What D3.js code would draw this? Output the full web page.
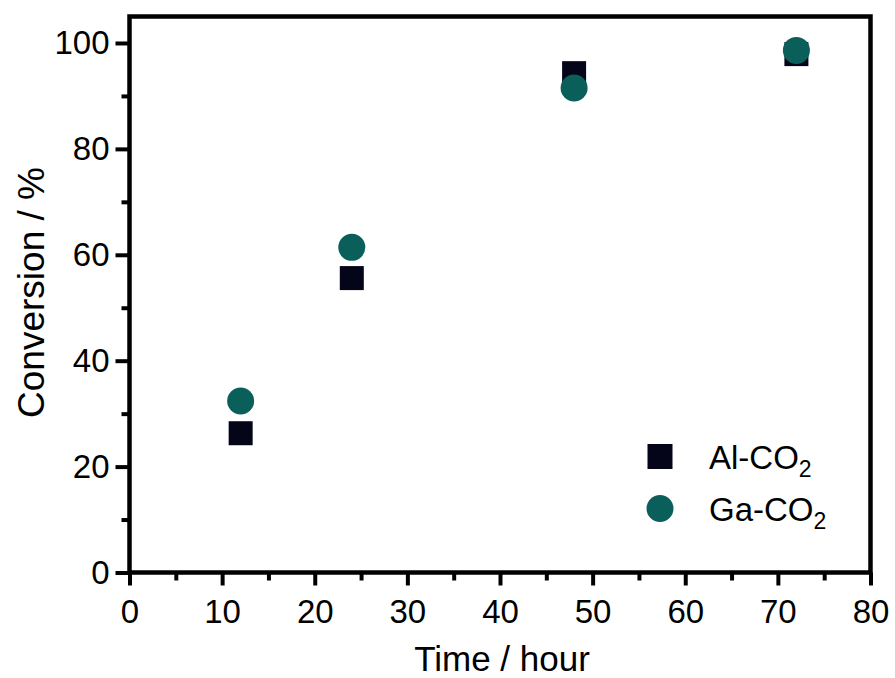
<!DOCTYPE html>
<html><head><meta charset="utf-8">
<script src="https://cdn.jsdelivr.net/npm/d3@7"></script>
<style>body{margin:0;background:#fff}svg{display:block}text{font-family:"Liberation Sans",Arial,sans-serif;fill:#000}</style>
</head><body>
<svg id="c" width="895" height="678"></svg>
<script>
const seriesNames = ["Al-CO2", "Ga-CO2"];
const timeHours = [12, 24, 48, 72];
const alConversion = [26.3, 55.6, 94.3, 97.9];
const gaConversion = [32.4, 61.4, 91.5, 98.6];
const xTicks = [0, 10, 20, 30, 40, 50, 60, 70, 80];
const yTicks = [0, 20, 40, 60, 80, 100];

const svg = d3.select("#c");
const L = 129.5, R = 870.5, T = 16.5, B = 572.5;
const x = d3.scaleLinear().domain([0, 80]).range([L, R]);
const y = d3.scaleLinear().domain([0, 105]).range([B, T]);

// Frame
svg.append("rect").attr("x", L).attr("y", T).attr("width", R - L).attr("height", B - T)
  .attr("fill", "none").attr("stroke", "#000").attr("stroke-width", 4.5);

// X axis
const xAxis = d3.axisBottom(x).tickValues(xTicks).tickSize(13).tickPadding(14).tickFormat(d3.format("d"));
const gx = svg.append("g").attr("transform", `translate(0,${B})`).call(xAxis);
gx.select(".domain").remove();
gx.selectAll(".tick line").attr("stroke", "#000").attr("stroke-width", 4);
gx.selectAll(".tick text").attr("font-size", 33).attr("fill", "#000");
const gxm = svg.append("g").attr("transform", `translate(0,${B})`)
  .call(d3.axisBottom(x).tickValues(d3.range(5, 80, 10)).tickSize(8).tickFormat(""));
gxm.select(".domain").remove();
gxm.selectAll(".tick line").attr("stroke", "#000").attr("stroke-width", 4);

// Y axis
const yAxis = d3.axisLeft(y).tickValues(yTicks).tickSize(14).tickPadding(6).tickFormat(d3.format("d"));
const gy = svg.append("g").attr("transform", `translate(${L},0)`).call(yAxis);
gy.select(".domain").remove();
gy.selectAll(".tick line").attr("stroke", "#000").attr("stroke-width", 4);
gy.selectAll(".tick text").attr("font-size", 33).attr("fill", "#000");
const gym = svg.append("g").attr("transform", `translate(${L},0)`)
  .call(d3.axisLeft(y).tickValues(d3.range(10, 101, 20)).tickSize(8).tickFormat(""));
gym.select(".domain").remove();
gym.selectAll(".tick line").attr("stroke", "#000").attr("stroke-width", 4);

// Titles
svg.append("text").attr("x", 502).attr("y", 671).attr("text-anchor", "middle")
  .attr("font-size", 35).text("Time / hour");
svg.append("text").attr("transform", `translate(44,${(T + B) / 2 - 2}) rotate(-90)`)
  .attr("text-anchor", "middle").attr("font-size", 37).text("Conversion / %");

// Data
const colors = ["#05051a", "#0b5f5b"];
const sq = 24, rad = 13.5;
svg.append("g").selectAll("rect").data(timeHours.map((t, i) => [t, alConversion[i]])).join("rect")
  .attr("x", d => x(d[0]) - sq / 2).attr("y", d => y(d[1]) - sq / 2)
  .attr("width", sq).attr("height", sq).attr("fill", colors[0]);
svg.append("g").selectAll("circle").data(timeHours.map((t, i) => [t, gaConversion[i]])).join("circle")
  .attr("cx", d => x(d[0])).attr("cy", d => y(d[1])).attr("r", rad).attr("fill", colors[1]);

// Legend
const lg = svg.append("g");
const legY = [456.5, 508.5];
lg.append("rect").attr("x", 660 - 12.5).attr("y", legY[0] - 12.5).attr("width", 25).attr("height", 25).attr("fill", colors[0]);
lg.append("circle").attr("cx", 660).attr("cy", legY[1]).attr("r", 13.5).attr("fill", colors[1]);
seriesNames.forEach((n, i) => {
  const m = n.match(/^(.*?)(\d+)$/);
  const t = lg.append("text").attr("x", 709).attr("y", legY[i] + 12.5).attr("font-size", 33);
  t.append("tspan").text(m[1]);
  t.append("tspan").attr("font-size", 23).attr("dy", 8).text(m[2]);
});
</script>
</body></html>
